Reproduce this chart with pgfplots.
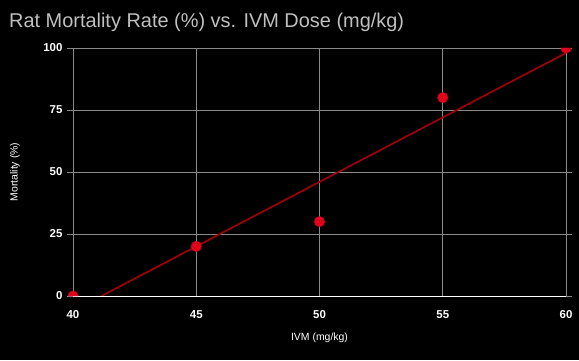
\documentclass[border=0pt]{standalone}
\usepackage{pgfplots}
\pgfplotsset{compat=1.18}
\usepackage{fontspec}
\setmainfont{Liberation Sans}
\usetikzlibrary{plotmarks}
\pgfdeclareplotmark{halfdisk}{%
  \pgfpathmoveto{\pgfqpoint{\pgfplotmarksize}{0pt}}%
  \pgfpatharc{0}{180}{\pgfplotmarksize}%
  \pgfpathclose
  \pgfusepathqfillstroke}
\definecolor{gridc}{HTML}{8A8A8A}
\definecolor{ptred}{HTML}{E0001B}
\definecolor{lnred}{HTML}{A10008}
\definecolor{titc}{HTML}{C0C0C0}
\begin{document}
\begin{tikzpicture}[x=1bp,y=1bp]
\fill[black] (0,0) rectangle (579,360);
\useasboundingbox (0,0) rectangle (579,360);
\node[anchor=base west, text=titc, font=\fontsize{20}{22}\selectfont, inner sep=0] at (9,333) {Rat Mortality Rate (\%) vs. IVM Dose (mg/kg)};
\begin{axis}[
  at={(73bp,64bp)}, anchor=south west,
  width=493bp, height=248bp, scale only axis,
  xmin=40, xmax=60, ymin=0, ymax=100,
  xtick={40,45,50,55,60}, ytick={0,25,50,75,100},
  grid=major,
  grid style={gridc, line width=0.8pt},
  axis line style={draw=none},
  xtick style={draw=none},
  ytick style={gridc, line width=0.8pt},
  major tick length=6bp,
  tick align=outside,
  tick label style={text=white, font=\bfseries\fontsize{11.5}{13}\selectfont},
  /pgf/number format/assume math mode=true,
  xlabel={IVM (mg/kg)}, ylabel={Mortality (\%)},
  label style={text=white, font=\fontsize{10.5}{12}\selectfont},
  xlabel style={at={(0.5,0)}, anchor=base, yshift=-44.5bp},
  ylabel style={at={(-0.1176,0.5)}, anchor=center},
  xticklabel style={anchor=base, yshift=-16bp},
  yticklabel style={anchor=east, xshift=-1bp},
]
\addplot[lnred, line width=1.7pt] coordinates {(41.1538,0) (60,98)};
\addplot[only marks, mark=*, mark size=5.2bp, mark options={fill=ptred, draw=ptred}] coordinates {(45,20) (50,30) (55,80)};
\addplot[only marks, mark=halfdisk, mark size=5.2bp, mark options={fill=ptred, draw=ptred, line width=0.3pt}] coordinates {(40,0)};
\addplot[only marks, mark=halfdisk, mark size=5.2bp, mark options={fill=ptred, draw=ptred, line width=0.3pt, rotate=180}] coordinates {(60,100)};
\draw[white, line width=1pt] (axis cs:40,0) -- (axis cs:60,0);
\draw[gridc, line width=0.8pt] (axis cs:40,100) -- (axis cs:60,100);
\end{axis}
\end{tikzpicture}
\end{document}
